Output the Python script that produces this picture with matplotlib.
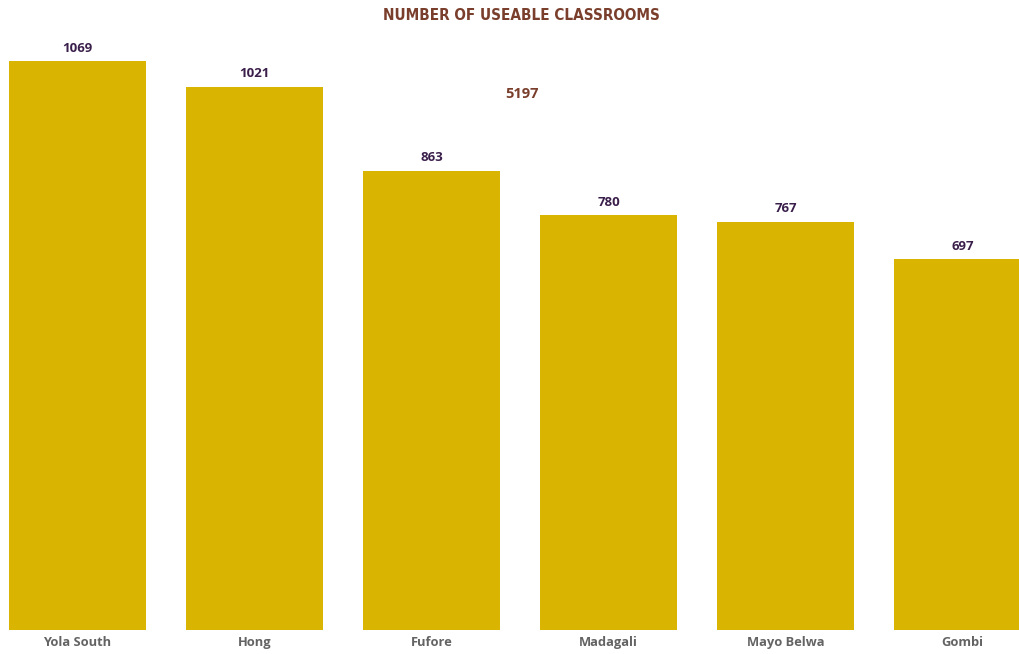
import matplotlib.pyplot as plt

districts = ["Yola South", "Hong", "Fufore", "Madagali", "Mayo Belwa", "Gombi"]
classrooms = [1069, 1021, 863, 780, 767, 697]
total_label = "5197"

bar_color = "#D9B400"
value_color = "#3B1F4B"
title_color = "#7A3F2C"

fig = plt.figure(figsize=(10.19, 6.54), dpi=100)
ax = fig.add_axes([0, 24 / 654, 1, 590 / 654])

x = list(range(len(districts)))
bars = ax.bar(x, classrooms, width=0.774, color=bar_color)

for xi, v in zip(x, classrooms):
    ax.annotate(str(v), (xi, v), xytext=(0, 4.5), textcoords="offset points",
                ha="center", va="bottom", fontsize=9.5, fontweight="bold",
                color=value_color, family="Open Sans")

ax.set_xlim(-0.438, 5.319)
ax.set_ylim(0, 590 / 0.5323)
ax.set_xticks(x)
ax.set_xticklabels(districts, fontsize=9.3, fontweight="bold", color="#636363",
                   family="Open Sans")
ax.tick_params(axis="x", length=0, pad=4)
ax.set_yticks([])
for s in ax.spines.values():
    s.set_visible(False)

fig.text(0.512, 1 - 16 / 654, "NUMBER OF USEABLE CLASSROOMS", ha="center", va="center",
         fontsize=11, fontweight="bold", color=title_color, family="DejaVu Sans",
         fontstretch="condensed")
fig.text(522 / 1019, 1 - 94 / 654, total_label, ha="center", va="center",
         fontsize=10.5, fontweight="bold", color=title_color, family="Open Sans")

fig.savefig("out.png", dpi=100)
